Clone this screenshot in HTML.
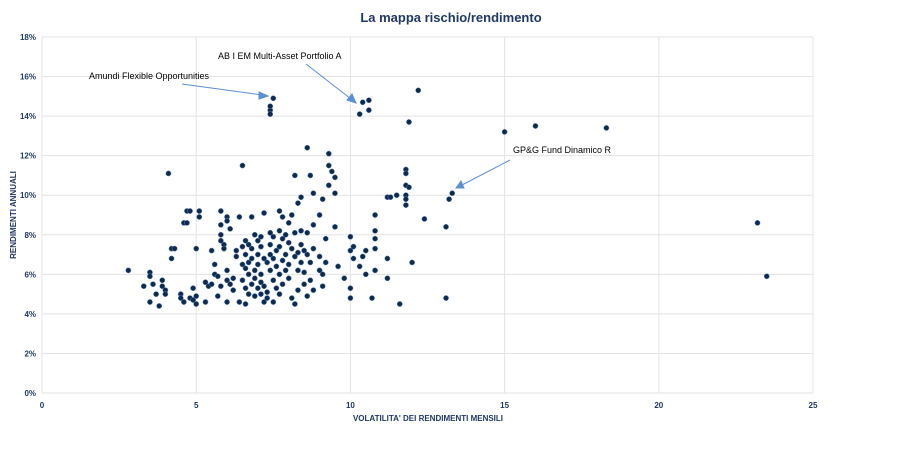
<!DOCTYPE html>
<html><head><meta charset="utf-8"><style>
body{margin:0;background:#fff;font-family:"Liberation Sans",sans-serif}
</style></head><body>
<svg id="chart" width="902" height="460" xmlns="http://www.w3.org/2000/svg">
<rect width="902" height="460" fill="#fff"/>
<text x="451" y="22" text-anchor="middle" font-size="13" font-weight="bold" fill="#1f3864">La mappa rischio/rendimento</text>
<g id="grid"></g><g id="ticks"></g><g id="pts"></g>
<text x="428" y="421" text-anchor="middle" font-size="8" font-weight="bold" fill="#1f3864">VOLATILITA' DEI RENDIMENTI MENSILI</text>
<text transform="translate(16,215) rotate(-90)" text-anchor="middle" font-size="8" font-weight="bold" fill="#1f3864">RENDIMENTI ANNUALI</text>
<g font-size="9" fill="#000">
<text x="89" y="79">Amundi Flexible Opportunities</text>
<text x="218" y="59">AB I EM Multi-Asset Portfolio A</text>
<text x="513" y="153">GP&amp;G Fund Dinamico R</text>
</g>
<g stroke="#5b8fd6" stroke-width="1" fill="#5b8fd6">
<line x1="182" y1="84" x2="262" y2="95"/><polygon points="268,96 259,92 259,99"/>
<line x1="306" y1="64" x2="351" y2="99"/><polygon points="356,103 347,100 352,94"/>
<line x1="510" y1="160" x2="462" y2="185"/><polygon points="456,188 461,181 464,188"/>
</g>
</svg>
<script>
const xTicks=[0,5,10,15,20,25];
const yTicks=[0,2,4,6,8,10,12,14,16,18];
const vol=[2.8,4.1,3.5,3.5,3.3,3.6,3.7,3.5,3.8,3.9,3.9,4.0,4.0,4.2,4.3,4.2,4.5,4.5,4.6,4.6,4.7,4.7,4.8,4.8,4.9,4.9,5.0,5.0,5.1,5.1,5.0,5.3,5.3,5.4,5.5,5.5,5.6,5.6,5.7,5.7,5.8,5.8,5.8,5.8,5.8,5.9,5.9,6.0,6.0,6.0,6.0,6.0,6.1,6.1,6.2,6.2,6.3,6.3,6.4,6.4,6.5,6.5,6.5,6.5,6.6,6.6,6.6,6.6,6.6,6.7,6.7,6.7,6.7,6.8,6.8,6.8,6.8,6.9,6.9,6.9,6.9,7.0,7.0,7.0,7.0,7.1,7.1,7.1,7.1,7.1,7.2,7.2,7.2,7.2,7.3,7.3,7.3,7.4,7.4,7.4,7.4,7.4,7.4,7.4,7.5,7.5,7.5,7.5,7.5,7.6,7.6,7.6,7.7,7.7,7.7,7.7,7.7,7.8,7.8,7.8,7.8,7.9,7.9,7.9,8.0,8.0,8.0,8.0,8.1,8.1,8.1,8.2,8.2,8.2,8.2,8.3,8.3,8.3,8.3,8.4,8.4,8.4,8.4,8.5,8.5,8.5,8.6,8.6,8.6,8.6,8.7,8.7,8.7,8.8,8.8,8.8,8.8,9.0,9.0,9.0,9.1,9.1,9.1,9.2,9.2,9.3,9.3,9.3,9.4,9.5,9.5,9.5,9.6,9.8,10.0,10.0,10.0,10.0,10.1,10.1,10.3,10.3,10.4,10.4,10.5,10.5,10.6,10.6,10.7,10.8,10.8,10.8,10.8,10.8,11.2,11.2,11.2,11.3,11.5,11.6,11.8,11.8,11.8,11.8,11.8,11.8,11.9,11.9,12.0,12.2,12.4,13.1,13.1,13.2,13.3,15.0,16.0,18.3,23.2,23.5];
const ret=[6.2,11.1,6.1,5.9,5.4,5.5,5.0,4.6,4.4,5.7,5.4,5.2,5.0,7.3,7.3,6.8,5.0,4.8,4.6,8.6,8.6,9.2,9.2,4.8,4.7,5.3,4.9,4.5,9.2,8.9,7.3,4.6,5.6,5.4,5.5,7.2,6.5,6.0,5.9,4.9,5.4,7.7,8.0,8.5,9.2,7.5,7.3,8.9,8.7,6.2,5.7,4.6,8.3,5.5,5.2,5.8,7.2,6.9,8.9,4.6,11.5,7.4,6.5,5.7,7.7,7.0,6.3,5.3,4.5,7.5,6.6,6.0,5.0,8.9,7.3,6.8,5.5,8.0,6.2,5.8,4.9,7.7,7.0,6.5,5.3,7.9,7.4,6.0,5.6,5.0,9.1,6.8,5.4,4.6,6.6,5.1,4.8,8.1,7.5,7.0,6.2,14.3,14.1,14.5,14.9,7.9,6.8,5.7,4.6,7.2,6.4,5.3,9.2,8.2,7.4,6.0,5.0,8.9,7.8,6.7,5.5,8.0,7.0,6.2,8.6,7.6,6.5,5.8,9.0,7.3,4.8,11.0,8.1,6.9,4.5,9.6,7.1,6.2,5.2,9.9,8.2,7.5,6.6,7.2,6.1,5.5,12.4,8.1,7.0,4.9,11.0,6.6,5.7,10.1,8.5,7.3,5.2,9.0,6.9,6.2,9.8,6.0,5.4,7.8,6.6,12.1,11.5,10.5,11.2,10.9,10.1,8.4,6.4,5.8,7.9,7.2,4.8,5.3,6.8,7.4,6.4,14.1,14.7,6.9,6.0,7.2,14.8,14.3,4.8,9.0,8.2,7.8,7.3,6.2,9.9,6.8,5.8,9.9,10.0,4.5,11.3,11.1,10.5,10.0,9.8,9.5,10.4,13.7,6.6,15.3,8.8,8.4,4.8,9.8,10.1,13.2,13.5,13.4,8.6,5.9];
const X=v=>42+v*30.84, Y=v=>393-v*19.78;
const NS='http://www.w3.org/2000/svg';
const grid=document.getElementById('grid'),ticks=document.getElementById('ticks'),pts=document.getElementById('pts');
function mk(tag,at,par){const e=document.createElementNS(NS,tag);for(const k in at)e.setAttribute(k,at[k]);par.appendChild(e);return e;}
yTicks.forEach(t=>{
 const l=mk('line',{x1:42,x2:813,y1:Y(t),y2:Y(t),stroke:'#e3e3e3','stroke-width':1},grid);
 
 
 const tx=mk('text',{x:36,y:Y(t)+3,'text-anchor':'end','font-size':8,'font-weight':'bold',fill:'#1f3864'},ticks);
 tx.textContent=t+'%';
 
 
});
xTicks.forEach(t=>{
 const l=mk('line',{x1:X(t),x2:X(t),y1:Y(0),y2:Y(18),stroke:'#e3e3e3','stroke-width':1},grid);
 
 
 const tx=mk('text',{x:X(t),y:408,'text-anchor':'middle','font-size':8,'font-weight':'bold',fill:'#1f3864'},ticks);
 tx.textContent=t;
 
 
});
vol.forEach((v,i)=>{
 const c=mk('circle',{cx:X(v),cy:Y(ret[i]),r:2.6,fill:'#0f2a4f',stroke:'#5f86b8','stroke-width':0.5},pts);
 
 
});
</script>
</body></html>
